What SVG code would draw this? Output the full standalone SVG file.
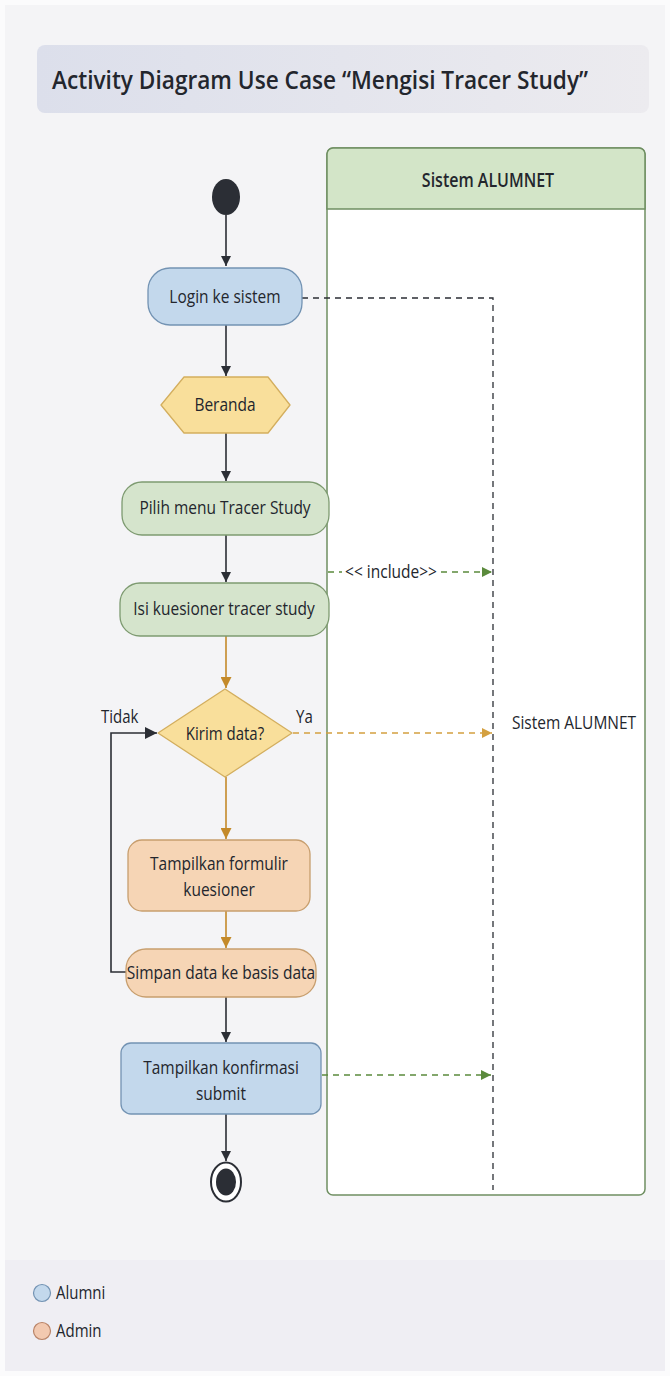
<svg xmlns="http://www.w3.org/2000/svg" width="670" height="1376" viewBox="0 0 670 1376">
<defs>
<style>
text{font-family:"Open Sans","Noto Sans","Liberation Sans",sans-serif;fill:#23262d}
.lbl{font-size:15.5px;text-anchor:middle}
.blue{fill:#c3d8ec;stroke:#7393b3;stroke-width:1.3}
.green{fill:#d5e4cc;stroke:#7d9a70;stroke-width:1.3}
.yellow{fill:#f9df9b;stroke:#d3ae5e;stroke-width:1.3}
.orange{fill:#f6d5b5;stroke:#c79e6e;stroke-width:1.3}
.flow{fill:none;stroke:#2b2e35;stroke-width:1.6}
.oflow{fill:none;stroke:#c48a2a;stroke-width:1.6}
.dash{fill:none;stroke:#2b2e35;stroke-width:1.3;stroke-dasharray:6 5}
.gdash{fill:none;stroke:#5b8a3c;stroke-width:1.4;stroke-dasharray:6 5}
.ydash{fill:none;stroke:#d4a040;stroke-width:1.4;stroke-dasharray:6 5}
</style>
<marker id="ab" viewBox="0 0 10 10" refX="10" refY="5" markerWidth="10" markerHeight="10" markerUnits="userSpaceOnUse" orient="auto"><path d="M0,0 L10,5 L0,10 z" fill="#2b2e35"/></marker>
<marker id="abL" viewBox="0 0 10 10" refX="10" refY="5" markerWidth="12" markerHeight="12" markerUnits="userSpaceOnUse" orient="auto"><path d="M0,0 L10,5 L0,10 z" fill="#2b2e35"/></marker>
<marker id="ao" viewBox="0 0 10 10" refX="10" refY="5" markerWidth="12" markerHeight="11" markerUnits="userSpaceOnUse" orient="auto"><path d="M0,0 L10,5 L0,10 z" fill="#c48a2a"/></marker>
<marker id="ag" viewBox="0 0 10 10" refX="10" refY="5" markerWidth="11" markerHeight="10" markerUnits="userSpaceOnUse" orient="auto"><path d="M0,0 L10,5 L0,10 z" fill="#5b8a3c"/></marker>
<marker id="ay" viewBox="0 0 10 10" refX="10" refY="5" markerWidth="11" markerHeight="10" markerUnits="userSpaceOnUse" orient="auto"><path d="M0,0 L10,5 L0,10 z" fill="#d4a040"/></marker>
<linearGradient id="tg" x1="0" y1="0" x2="1" y2="0"><stop offset="0" stop-color="#dcdfeb"/><stop offset="1" stop-color="#ecebef"/></linearGradient>
</defs>
<rect x="0" y="0" width="670" height="1376" fill="#fbfbfc"/>
<rect x="5" y="5" width="660" height="1255" fill="#f4f4f6"/>
<rect x="5" y="1260" width="660" height="111" fill="#efeef3"/>

<g id="title">
<rect x="37" y="45" width="612" height="68" rx="8" fill="url(#tg)"/>
<text transform="translate(52 89) scale(1 1.22)" style="font-size:20.5px;font-weight:600" textLength="536" lengthAdjust="spacingAndGlyphs">Activity Diagram Use Case “Mengisi Tracer Study”</text>
</g>

<g id="lane">
<rect x="327" y="148" width="318" height="1047" rx="6" fill="#ffffff" stroke="#6f8f62" stroke-width="1.5"/>
<path d="M327 209 V154 a6 6 0 0 1 6 -6 H639 a6 6 0 0 1 6 6 V209 Z" fill="#d3e5c8" stroke="#6f8f62" stroke-width="1.5"/>
<text transform="translate(488 187) scale(1 1.22)" class="lbl" style="font-size:16px;font-weight:600">Sistem ALUMNET</text>
<text transform="translate(574 729) scale(1 1.22)" class="lbl" style="font-size:15.5px">Sistem ALUMNET</text>
</g>

<g id="connectors">
<path class="dash" d="M302 298 H493 V1190"/>
<path class="flow" d="M226 215 V266" marker-end="url(#ab)"/>
<path class="flow" d="M226 325 V376" marker-end="url(#ab)"/>
<path class="flow" d="M226 433 V481" marker-end="url(#ab)"/>
<path class="flow" d="M226 535 V582" marker-end="url(#ab)"/>
<path class="oflow" d="M226 636 V688" marker-end="url(#ao)"/>
<path class="oflow" d="M226 777 V839" marker-end="url(#ao)"/>
<path class="oflow" d="M226 911 V948" marker-end="url(#ao)"/>
<path class="flow" d="M226 997 V1042" marker-end="url(#ab)"/>
<path class="flow" d="M226 1114 V1161" marker-end="url(#ab)"/>
<path class="flow" d="M126 972 H111 V733 H157" marker-end="url(#abL)"/>
<path class="gdash" d="M328 572 H342"/>
<path class="gdash" d="M441 572 H492" marker-end="url(#ag)"/>
<text transform="translate(391 578) scale(1 1.22)" class="lbl" style="font-size:15.5px">&lt;&lt; include&gt;&gt;</text>
<path class="ydash" d="M293 733 H492" marker-end="url(#ay)"/>
<path class="gdash" d="M322 1075 H491" marker-end="url(#ag)"/>
<text transform="translate(101 723) scale(1 1.22)" style="font-size:15px">Tidak</text>
<text transform="translate(296 723) scale(1 1.22)" style="font-size:15px">Ya</text>
</g>

<g id="start"><ellipse cx="226" cy="197" rx="14" ry="18" fill="#2b2e35"/></g>

<g id="login">
<rect class="blue" x="148" y="268" width="154" height="57" rx="22"/>
<text transform="translate(225 303) scale(1 1.22)" class="lbl">Login ke sistem</text>
</g>

<g id="beranda">
<path class="yellow" d="M161 405 L184 377 H268 L290 405 L268 433 H184 Z" stroke-linejoin="round"/>
<text transform="translate(225 411) scale(1 1.22)" class="lbl">Beranda</text>
</g>

<g id="pilih">
<rect class="green" x="122" y="482" width="207" height="53" rx="20"/>
<text transform="translate(225 514) scale(1 1.22)" class="lbl">Pilih menu Tracer Study</text>
</g>

<g id="isi">
<rect class="green" x="120" y="583" width="209" height="53" rx="20"/>
<text transform="translate(224 615) scale(1 1.22)" class="lbl">Isi kuesioner tracer study</text>
</g>

<g id="kirim">
<path class="yellow" d="M225 689 L292 733 L225 777 L158 733 Z" stroke-linejoin="round"/>
<text transform="translate(225 740) scale(1 1.22)" class="lbl" style="font-size:15px">Kirim data?</text>
</g>

<g id="formulir">
<rect class="orange" x="128" y="840" width="182" height="71" rx="14"/>
<text transform="translate(219 870) scale(1 1.22)" class="lbl">Tampilkan formulir</text>
<text transform="translate(219 896) scale(1 1.22)" class="lbl">kuesioner</text>
</g>

<g id="simpan">
<rect class="orange" x="126" y="949" width="190" height="48" rx="20"/>
<text transform="translate(221 979) scale(1 1.22)" class="lbl">Simpan data ke basis data</text>
</g>

<g id="konfirmasi">
<rect class="blue" x="121" y="1043" width="200" height="71" rx="10"/>
<text transform="translate(221 1074) scale(1 1.22)" class="lbl">Tampilkan konfirmasi</text>
<text transform="translate(221 1100) scale(1 1.22)" class="lbl">submit</text>
</g>

<g id="end">
<ellipse cx="226" cy="1182" rx="15" ry="19.5" fill="#ffffff" stroke="#2b2e35" stroke-width="2"/>
<ellipse cx="226" cy="1182" rx="10" ry="13.5" fill="#2b2e35"/>
</g>

<g id="legend">
<circle cx="42" cy="1293" r="8.5" fill="#c3d8ec" stroke="#7393b3" stroke-width="1.2"/>
<text transform="translate(56 1299) scale(1 1.22)" style="font-size:15px">Alumni</text>
<circle cx="42" cy="1331" r="8.5" fill="#f2c9b0" stroke="#b98468" stroke-width="1.2"/>
<text transform="translate(56 1337) scale(1 1.22)" style="font-size:15px">Admin</text>
</g>
</svg>
